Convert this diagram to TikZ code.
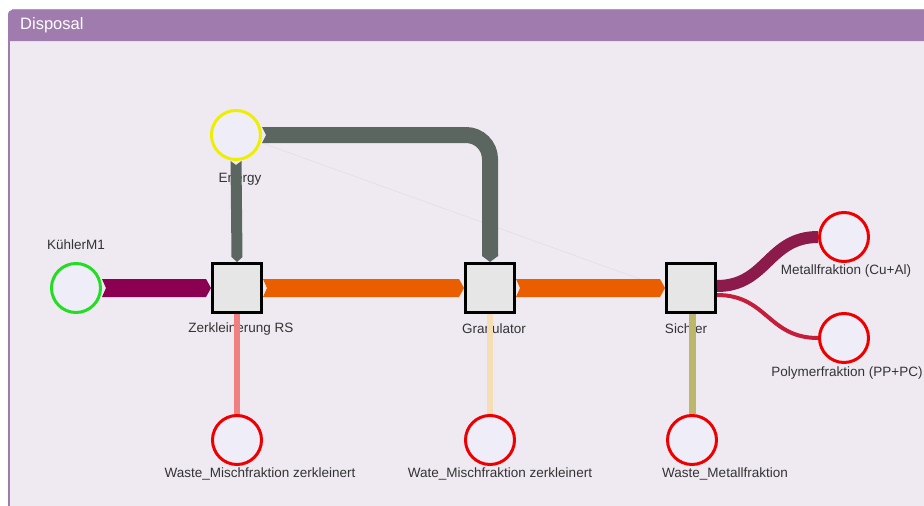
\documentclass[tikz,border=0pt]{standalone}
\usepackage{fontspec}
\setmainfont{Liberation Sans}
\usetikzlibrary{calc}

\definecolor{headerpurple}{HTML}{A07CAE}
\definecolor{bodybg}{HTML}{EFEAF2}
\definecolor{circfill}{HTML}{EFEEF8}
\definecolor{boxfill}{HTML}{E6E6E6}
\definecolor{labeltext}{HTML}{333333}
\definecolor{greenring}{HTML}{22DD22}
\definecolor{yellowring}{HTML}{EEEE00}
\definecolor{redring}{HTML}{EE0000}
\definecolor{flowpurple}{HTML}{8B0050}
\definecolor{floworange}{HTML}{EB5E00}
\definecolor{flowgray}{HTML}{5B6660}
\definecolor{flowpink}{HTML}{F08080}
\definecolor{flowbeige}{HTML}{F5DEB3}
\definecolor{flowolive}{HTML}{BDB76B}
\definecolor{flowmetal}{HTML}{8C1A4B}
\definecolor{flowpoly}{HTML}{C41E3A}
\definecolor{faintflow}{HTML}{E2DDE6}

% horizontal sankey band: notched start, pointed end
\newcommand{\sankeyh}[4]{%
  \fill[#4] ($(#1)+(0,-#3/2)$) -- ($(#2)+(-5,-#3/2)$) -- (#2)
    -- ($(#2)+(-5,#3/2)$) -- ($(#1)+(0,#3/2)$) -- ($(#1)+(4,0)$) -- cycle;}
% vertical sankey band (downwards): notched start, pointed end
\newcommand{\sankeyv}[4]{%
  \fill[#4] ($(#1)+(-#3/2,0)$) -- ($(#2)+(-#3/2,-5)$) -- (#2)
    -- ($(#2)+(#3/2,-5)$) -- ($(#1)+(#3/2,0)$) -- ($(#1)+(0,4)$) -- cycle;}

\begin{document}
\begin{tikzpicture}[x=1pt,y=-1pt,
  srcnode/.style={circle, fill=circfill, line width=3pt, minimum size=49pt, inner sep=0pt},
  sinknode/.style={srcnode, draw=redring},
  procbox/.style={rectangle, fill=boxfill, draw=black, line width=3pt, minimum size=49pt, inner sep=0pt},
  lbl/.style={font=\fontsize{13.5}{15}\selectfont, text=labeltext, inner sep=0pt},
]
\useasboundingbox (0,0) rectangle (924,506);

% panel
\fill[white] (0,0) rectangle (924,506);
\fill[bodybg] (8,41) rectangle (924,506);
\draw[headerpurple, line width=1.5pt] (8.75,41) -- (8.75,506);
\fill[headerpurple] (8,41) [rounded corners=4pt] -- (8,10) [sharp corners] -- (924,10) -- (924,41) -- cycle;
\draw[gray!70, line width=0.6pt] (12,9.7) -- (924,9.7);
\node[anchor=west, text=white, font=\fontsize{16.5}{18}\selectfont, inner sep=0pt] (title) at (20,25) {Disposal};

% labels
\node[lbl] (lK) at (76,245) {KühlerM1};
\node[lbl] (lE) at (240,179) {Energy};
\node[lbl] (lZ) at (241,329) {Zerkleinerung RS};
\node[lbl] (lG) at (494,329) {Granulator};
\node[lbl] (lS) at (686,329) {Sichter};
\node[lbl] (lM) at (846,271) {Metallfraktion (Cu+Al)};
\node[lbl] (lP) at (847,373) {Polymerfraktion (PP+PC)};
\node[lbl] (lW1) at (260,474) {Waste\_Mischfraktion zerkleinert};
\node[lbl] (lW2) at (500,474) {Wate\_Mischfraktion zerkleinert};
\node[lbl] (lW3) at (725,474) {Waste\_Metallfraktion};

% nodes
\node[srcnode, draw=greenring] (K) at (76,288) {};
\node[srcnode, draw=yellowring] (E) at (236,135) {};
\node[procbox] (Z) at (237,288) {};
\node[procbox] (G) at (490,288) {};
\node[procbox] (S) at (691,288) {};
\node[sinknode] (M) at (844,237) {};
\node[sinknode] (P) at (844,338) {};
\node[sinknode] (W1) at (237,440) {};
\node[sinknode] (W2) at (490,440) {};
\node[sinknode] (W3) at (692,440) {};

% faint energy flow to the Sichter
\draw[faintflow, line width=0.6pt] ($(E.east)+(0,8)$) -- (S.west);

% main material line
\sankeyh{K.east}{Z.west}{18}{flowpurple}
\sankeyh{Z.east}{G.west}{18}{floworange}
\sankeyh{G.east}{S.west}{18}{floworange}

% energy supply
\sankeyv{E.south}{Z.north}{11}{flowgray}
\fill[flowgray] ($(E.east)+(0,-8)$) -- ++(5,0) -- ++(0,16) -- ($(E.east)+(0,8)$) -- ($(E.east)+(4,0)$) -- cycle;
\draw[flowgray, line width=16pt, rounded corners=24pt] ($(E.east)+(4.5,0)$) -| ($(G.north)+(0,-6)$);
\fill[flowgray] ($(G.north)+(-8,-7)$) -- ($(G.north)+(-8,-6)$) -- (G.north) -- ($(G.north)+(8,-6)$) -- ($(G.north)+(8,-7)$) -- cycle;

% waste streams
\fill[flowpink] ($(Z.south)+(-3,0)$) rectangle ($(W1.north)+(3,0)$);
\fill[flowbeige] ($(G.south)+(-3,0)$) rectangle ($(W2.north)+(3,0)$);
\fill[flowolive] ($(S.south)+(-2,0)$) rectangle ($(W3.north)+(4,0)$);

% Sichter outputs
\draw[flowmetal, line width=12pt] ($(S.east)+(0,-2)$) .. controls +(50,0) and +(-50,0) .. (M.west);
\draw[flowpoly, line width=4pt] ($(S.east)+(0,7)$) .. controls +(50,0) and +(-50,0) .. (P.west);
\end{tikzpicture}
\end{document}
